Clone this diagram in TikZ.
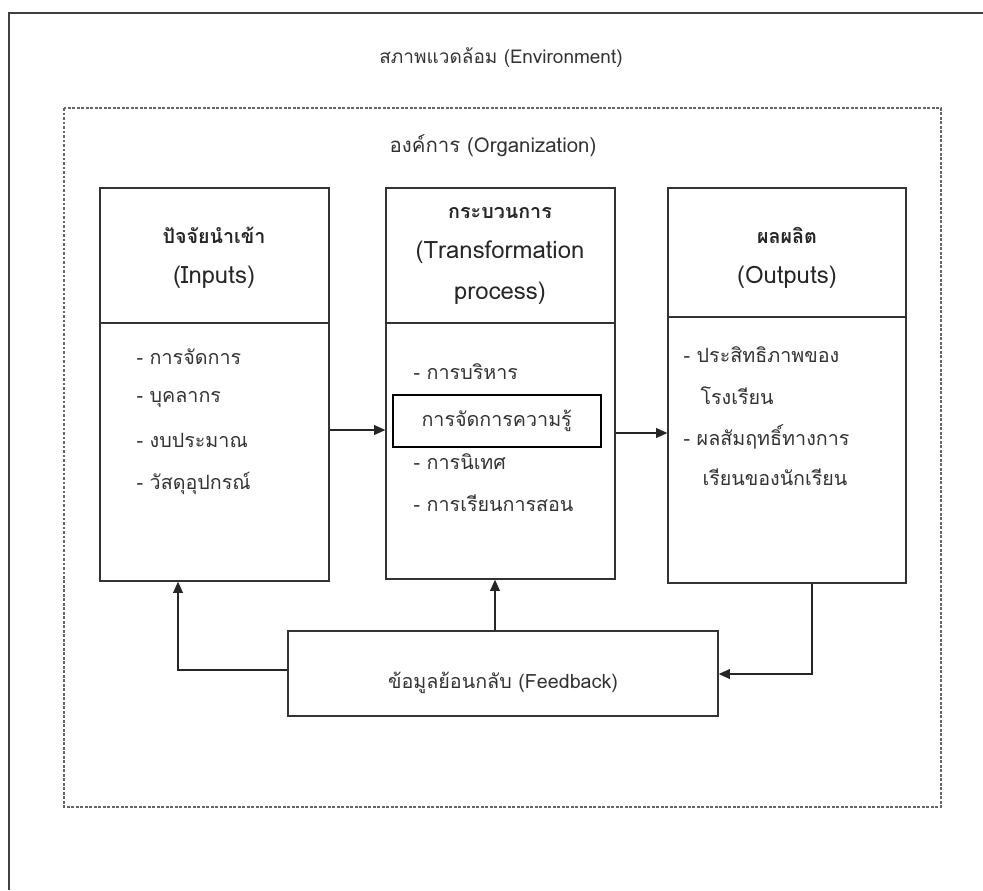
\documentclass[tikz,border=0pt]{standalone}
\usepackage{fontspec}
\setmainfont{Loma}[Script=Thai]
\usetikzlibrary{arrows.meta}
\tikzset{
	box/.style={draw=black!80,line width=0.9pt,rectangle,inner sep=0pt},
	arr/.style={draw=black!85,line width=0.9pt,-{Triangle[length=8pt,width=7pt]}},
	item/.style={anchor=west,inner sep=0pt,text=black!80,font=\fontsize{14}{16}\selectfont},
	head/.style={inner sep=0pt,text=black!85,font=\fontsize{17}{19}\selectfont},
	title/.style={inner sep=0pt,text=black!85,font=\fontsize{14}{16}\selectfont\bfseries},
	label/.style={inner sep=0pt,text=black!80,font=\fontsize{14}{16}\selectfont},
}
\begin{document}
\begin{tikzpicture}[x=0.025cm,y=-0.025cm,thick]
	\useasboundingbox (0,0) rectangle (983,890);
	\draw[line width=1.5pt,black!75] (9,890) -- (9,13) -- (983,13);
	\draw[black!60,line width=0.9pt,dash pattern=on 2pt off 1.2pt] (64,108) rectangle (941,807);
	\node[label,font=\fontsize{13.5}{16}\selectfont] (env) at (501,58) {สภาพแวดล้อม (Environment)};
	\node[label,font=\fontsize{14.5}{16}\selectfont] (org) at (493,146) {องค์การ (Organization)};

	% the three boxes
	\node[box,minimum width=5.725cm,minimum height=9.825cm] (inputs) at (214.5,384.5) {};
	\node[box,minimum width=5.725cm,minimum height=9.775cm] (process) at (500.5,383.5) {};
	\node[box,minimum width=5.95cm,minimum height=9.875cm] (outputs) at (787,385.5) {};
	\node[box,minimum width=10.75cm,minimum height=2.125cm] (feedback) at (503,673.5) {};
	\node[box,draw=black,line width=2pt,minimum width=5.2cm,minimum height=1.3cm] (km) at (497,421) {};

	\draw[black!80,line width=0.9pt] (inputs.west |- 0,323) -- (inputs.east |- 0,323);
	\draw[black!80,line width=0.9pt] (process.west |- 0,323) -- (process.east |- 0,323);
	\draw[black!80,line width=0.9pt] (outputs.west |- 0,317) -- (outputs.east |- 0,317);

	\node[title] (intitle) at (214,235) {ปัจจัยนำเข้า};
	\node[head] (insub) at (214,277) {(Inputs)};
	\node[title] (prtitle) at (500,213) {กระบวนการ};
	\node[head] (prsub) at (500,252) {(Transformation};
	\node[head] (prsub2) at (500,293) {process)};
	\node[title] (outtitle) at (787,235) {ผลผลิต};
	\node[head] (outsub) at (787,277) {(Outputs)};

	\node[item] (in1) at (136,357) {- การจัดการ};
	\node[item] (in2) at (136,400) {- บุคลากร};
	\node[item] (in3) at (136,440) {- งบประมาณ};
	\node[item] (in4) at (136,483) {- วัสดุอุปกรณ์};

	\node[item] (pr1) at (413,372) {- การบริหาร};
	\node[item] (pr2) at (421,421) {การจัดการความรู้};
	\node[item] (pr3) at (413,462) {- การนิเทศ};
	\node[item] (pr4) at (413,503) {- การเรียนการสอน};

	\node[item] (out1) at (683,355) {- ประสิทธิภาพของ};
	\node[item] (out2) at (700,396) {โรงเรียน};
	\node[item] (out3) at (683,437) {- ผลสัมฤทธิ์ทางการ};
	\node[item] (out4) at (702,477) {เรียนของนักเรียน};

	\node[label] (fbtext) at (503,683) {ข้อมูลย้อนกลับ (Feedback)};

	\draw[arr] (inputs.east |- 0,430) -- (process.west |- 0,430);
	\draw[arr] (process.east |- 0,433) -- (outputs.west |- 0,433);
	\draw[arr] (feedback.west |- 0,670) -- (178,670) -- (inputs.south -| 178,0);
	\draw[arr] (feedback.north -| 495,0) -- (process.south -| 495,0);
	\draw[arr] (outputs.south -| 812,0) -- (812,674) -- (feedback.east |- 0,674);
\end{tikzpicture}
\end{document}
